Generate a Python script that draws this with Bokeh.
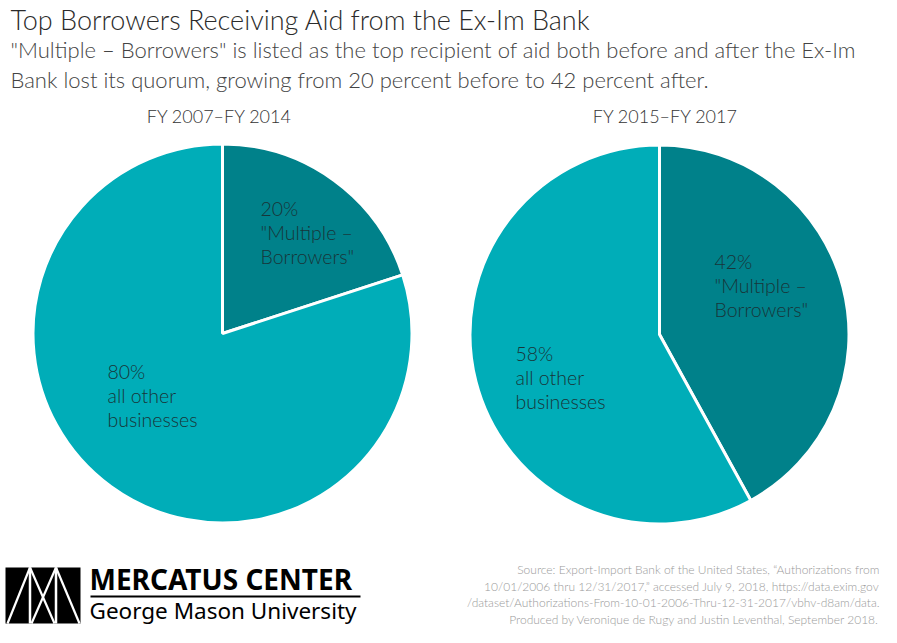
from bokeh.plotting import figure
from bokeh.models import Range1d, ColumnDataSource
from bokeh.core.properties import value
from bokeh.embed import file_html
from bokeh.resources import INLINE

# ---------------- data ----------------
title_text = "Top Borrowers Receiving Aid from the Ex-Im Bank"
subtitle_lines = [
    "\"Multiple \u2013 Borrowers\" is listed as the top recipient of aid both before and after the Ex-Im",
    "Bank lost its quorum, growing from 20 percent before to 42 percent after.",
]
periods = ["FY 2007\u2013FY 2014", "FY 2015\u2013FY 2017"]
multiple_pct = [20, 42]
other_pct = [80, 58]
multiple_label = ["\"Multiple \u2013", "Borrowers\""]
other_label = ["all other", "businesses"]
source_lines = [
    "Source: Export-Import Bank of the United States, \u201cAuthorizations from",
    "10/01/2006 thru 12/31/2017,\u201d accessed July 9, 2018, https://data.exim.gov",
    "/dataset/Authorizations-From-10-01-2006-Thru-12-31-2017/vbhv-d8am/data.",
    "Produced by Veronique de Rugy and Justin Leventhal, September 2018.",
]

# ---------------- layout ----------------
W, H = 881, 627
def fy(Y):  # picture y -> figure y
    return H - Y
def fx(X):
    return X
def ty(Y, size):  # baseline correction for text
    return fy(Y - 0.38 * size)

DARK = "#00818a"
LIGHT = "#00adb8"
LABEL_C = "#183539"
FONT = "Lato Light"

p = figure(width=W, height=H, output_backend="svg", toolbar_location=None,
           x_range=Range1d(0, W), y_range=Range1d(0, H), min_border=0,
           tools="")
p.axis.visible = False
p.grid.visible = False
p.outline_line_color = None
p.background_fill_color = "white"

centers = [(fx(222), fy(333)), (fx(659), fy(334))]
radius = 189.5

for (cx, cy), m, o in zip(centers, multiple_pct, other_pct):
    total = m + o
    split = 90 - 360.0 * m / total
    src = ColumnDataSource(dict(
        x=[cx, cx], y=[cy, cy],
        start=[split, 90], end=[90, split + 360],
        color=[DARK, LIGHT],
    ))
    p.wedge(x="x", y="y", radius=radius, start_angle="start", end_angle="end",
            start_angle_units="deg", end_angle_units="deg",
            fill_color="color", line_color="white", line_width=3, source=src)

# pie titles
PT = 18
title_pos = [fx(219), fx(665)]
for tx, lab in zip(title_pos, periods):
    p.text(x=[tx], y=[ty(122, PT)], text=[lab], text_font=value(FONT),
           text_font_size=f"{PT}px", text_color="#333333", text_align="center",
           text_baseline="alphabetic")

# slice labels
LS = 19.5
mult_anchor = [(fx(260), 215), (fx(714), 268)]
other_anchor = [(fx(107), 378), (fx(515), 360)]
LH = 24
for (ax, ay), m in zip(mult_anchor, multiple_pct):
    lines = [f"{m}%"] + multiple_label
    p.text(x=[ax] * 3, y=[ty(ay + i * LH, LS) for i in range(3)], text=lines,
           text_font=value(FONT), text_font_size=f"{LS}px", text_color=LABEL_C,
           text_baseline="alphabetic")
for (ax, ay), o in zip(other_anchor, other_pct):
    lines = [f"{o}%"] + other_label
    p.text(x=[ax] * 3, y=[ty(ay + i * LH, LS) for i in range(3)], text=lines,
           text_font=value(FONT), text_font_size=f"{LS}px", text_color=LABEL_C,
           text_baseline="alphabetic")

# title & subtitle
p.text(x=[fx(10)], y=[ty(29, 27)], text=[title_text], text_font=value(FONT),
       text_font_size="27px", text_color="#2b2b2b", text_baseline="alphabetic")
p.text(x=[fx(10)] * 2, y=[ty(57, 22), ty(87, 22)], text=subtitle_lines, text_font=value(FONT),
       text_font_size="22px", text_color="#444444", text_baseline="alphabetic")

# source
p.text(x=[fx(879)] * 4, y=[ty(574 + i * 16.5, 12) for i in range(4)], text=source_lines,
       text_font=value(FONT), text_font_size="12px", text_color="#9a9a9a",
       text_align="right", text_baseline="alphabetic")

# logo
lx0, lx1, ly0, ly1 = fx(5), fx(80), fy(623), fy(567)
p.quad(left=[lx0], right=[lx1], bottom=[ly0], top=[ly1], fill_color="black", line_color=None)
gx = [fx(29.5), fx(55.5)]
p.segment(x0=gx, y0=[ly0] * 2, x1=gx, y1=[ly1] * 2, line_color="white", line_width=2.5)
p.segment(x0=[fx(7), fx(29.5), fx(31), fx(55.5)],
          y0=[ly0, ly1, ly0, ly1],
          x1=[fx(29.5), fx(54), fx(55.5), fx(79)],
          y1=[ly1, ly0, ly1, ly0], line_color="white", line_width=2.2)
p.text(x=[fx(89)], y=[ty(589, 28)], text=["MERCATUS CENTER"], text_font=value("Noto Sans"),
       text_font_size="28px", text_font_style="bold", text_color="black",
       text_baseline="alphabetic")
p.segment(x0=[fx(90)], y0=[fy(596)], x1=[fx(360)], y1=[fy(596)], line_color="black", line_width=2)
p.text(x=[fx(89)], y=[ty(619, 22.5)], text=["George Mason University"], text_font=value("Noto Sans"),
       text_font_size="22.5px", text_color="black", text_baseline="alphabetic")

open("out.html", "w").write(file_html(p, INLINE))
